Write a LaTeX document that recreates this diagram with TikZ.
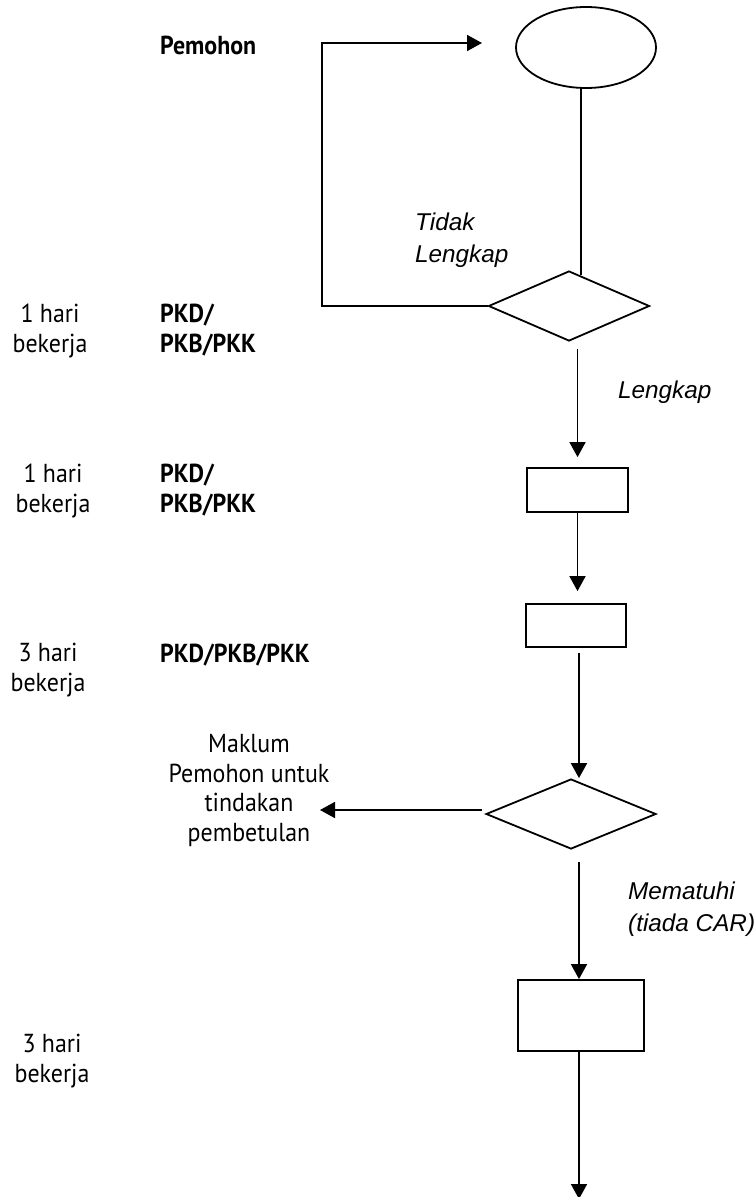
\documentclass[tikz,border=0pt]{standalone}
\usepackage{fontspec}
\setmainfont[FakeStretch=0.92]{PT Sans}
\newfontfamily\arialfont{Liberation Sans}
\usetikzlibrary{shapes.geometric,arrows.meta,calc}
\begin{document}
\begin{tikzpicture}[x=1pt,y=-1pt,
  ln/.style={line width=1.8pt},
  arr/.style={line width=1.8pt,-{Triangle[width=16pt,length=15pt]}},
  startshape/.style={draw,ellipse,line width=1.8pt,inner sep=0pt,minimum width=140pt,minimum height=81pt},
  decide/.style={draw,diamond,line width=1.8pt,inner sep=0pt},
  procbox/.style={draw,rectangle,line width=1.8pt,inner sep=0pt},
  tx/.style={font=\fontsize{26}{29.5}\selectfont,inner sep=0pt,align=center,anchor=base},
  bl/.style={font=\fontsize{26}{29.5}\selectfont\bfseries,inner sep=0pt,align=left,anchor=base west},
  it/.style={font=\arialfont\itshape\fontsize{24.3}{32}\selectfont,inner sep=0pt,align=left,anchor=base west}]
\useasboundingbox[fill=white] (0,0) rectangle (753,1197);

% shapes
\node[startshape] (e) at (586,47.5) {};
\node[decide,minimum width=161pt,minimum height=70pt] (d1) at (569,306) {};
\node[procbox,minimum width=101pt,minimum height=44pt] (r1) at (577.5,490) {};
\node[procbox,minimum width=100pt,minimum height=43pt] (r2) at (576,625.5) {};
\node[decide,minimum width=170pt,minimum height=70pt] (d2) at (571,814) {};
\node[procbox,minimum width=126pt,minimum height=71pt] (r3) at (581,1015.5) {};

% texts (anchor base = baseline of the last line)
\node[bl] (pem) at (160,54) {Pemohon};
\node[tx] (t1) at (50,352) {1 hari\\bekerja};
\node[bl] (p1) at (160,352) {PKD/\\PKB/PKK};
\node[tx] (t2) at (53,512) {1 hari\\bekerja};
\node[bl] (p2) at (160,512) {PKD/\\PKB/PKK};
\node[tx] (t3) at (48,691) {3 hari\\bekerja};
\node[bl] (p3) at (160,662) {PKD/PKB/PKK};
\node[tx] (t4) at (52,1082) {3 hari\\bekerja};
\node[tx] (mk) at (249,841) {Maklum\\Pemohon untuk\\tindakan\\pembetulan};
\node[it] (tl) at (415,262) {Tidak\\Lengkap};
\node[it] (lk) at (618,398) {Lengkap};
\node[it] (mp) at (628,931) {Mematuhi\\(tiada CAR)};

% helper coordinates
\coordinate (j1) at ($(d1.north)!0.15!(d1.east)$);
\coordinate (lc) at (322,43);
\coordinate (lt) at (482,43);
\coordinate (ax) at (579,0);
\coordinate (mt) at (320,810);
\coordinate (fin) at (579,1199);

% connectors
\draw[ln] (j1 |- e.south) -- (j1);
\draw[arr] (d1.west) -| (lc) -- (lt);
\draw[arr,shorten <=7pt,shorten >=10pt] (d1.south -| r1.north) -- (r1.north);
\draw[arr,shorten >=12pt] (r1.south) -- (r1.south |- r2.north);
\draw[arr,shorten <=5pt] (r2.south -| ax) -- (d2.north -| ax);
\draw[arr,shorten <=3pt] (d2.west |- mt) -- (mt);
\draw[arr,shorten <=12pt] (d2.south -| ax) -- (r3.north -| ax);
\draw[arr] (r3.south -| ax) -- (fin);
\end{tikzpicture}
\end{document}
